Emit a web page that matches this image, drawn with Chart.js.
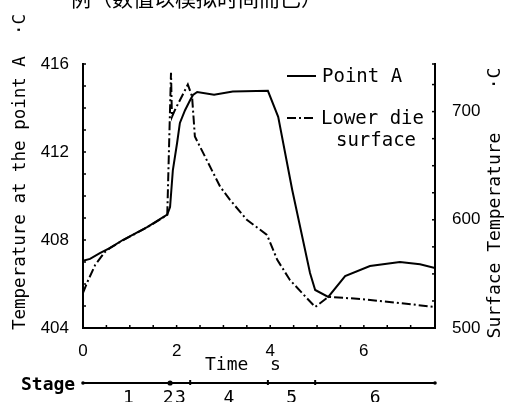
<!DOCTYPE html>
<html>
<head>
<meta charset="utf-8">
<script src="https://cdn.jsdelivr.net/npm/chart.js@4.4.1/dist/chart.umd.min.js"></script>
<style>
  html, body { margin: 0; padding: 0; background: #fff; }
  #wrap { width: 507px; height: 402px; }
</style>
</head>
<body>
<div id="wrap"><canvas id="tempChart" width="507" height="402"></canvas></div>
<script>
// Point A (left axis, solid)
const pointATime = [0, 0.15, 0.36, 0.58, 0.85, 1.37, 1.8, 1.86, 1.92, 2.01, 2.07, 2.18, 2.29, 2.35, 2.44, 2.8, 3.2, 3.95, 4.17, 4.47, 4.85, 4.96, 5.24, 5.6, 6.13, 6.77, 7.2, 7.52];
const pointATemp = [407.05, 407.14, 407.4, 407.64, 408.0, 408.59, 409.15, 409.5, 411.18, 412.41, 413.32, 413.9, 414.36, 414.59, 414.73, 414.6, 414.75, 414.78, 413.6, 410.27, 406.5, 405.73, 405.41, 406.36, 406.82, 407.0, 406.9, 406.73];

// Lower die surface (right axis, dash-dot)
const dieTime = [0, 0.085, 0.26, 0.47, 0.58, 0.85, 1.37, 1.8, 1.88, 1.9, 1.97, 2.24, 2.33, 2.39, 2.78, 2.93, 3.14, 3.5, 3.93, 4.15, 4.42, 4.96, 5.24, 5.92, 6.77, 7.52];
const dieTemp = [532.4, 541.7, 558.3, 570.4, 574, 581, 593, 604.5, 736, 695, 702, 725, 714, 677, 643.5, 630.6, 618.5, 600, 586.1, 563, 544.4, 519.4, 528.7, 526.9, 523.1, 519.4];

// stages along the time axis
const stageEdges = [0, 1.86, 2.29, 3.95, 4.96, 7.52];
const stageNames = ['1', '2', '3', '4', '5', '6'];
const stageLabelAt = [0.97, 1.82, 2.08, 3.12, 4.46, 6.24];

const xTickLabels = [0, 2, 4, 6];
const leftTickLabels = [404, 408, 412, 416];
const rightTickLabels = [500, 600, 700];

const mono = '"DejaVu Sans Mono", "Liberation Mono", monospace';
const dieDash = [9, 3, 2, 3];

function toPoints(xs, ys) {
    return xs.map((x, i) => ({ x: x, y: ys[i] }));
}

// inward tick marks, stage bar and all the loose text
const decorations = {
    id: 'decorations',
    afterDraw(chart) {
        const ctx = chart.ctx;
        const xs = chart.scales.x, yl = chart.scales.yLeft, yr = chart.scales.yRight;
        const area = chart.chartArea;
        ctx.save();
        ctx.strokeStyle = '#000';
        ctx.lineWidth = 1.5;
        // small ticks pointing inside
        yl.ticks.forEach(t => {
            const y = yl.getPixelForValue(t.value);
            ctx.beginPath(); ctx.moveTo(area.left, y); ctx.lineTo(area.left + 3, y); ctx.stroke();
        });
        yr.ticks.forEach(t => {
            const y = yr.getPixelForValue(t.value);
            ctx.beginPath(); ctx.moveTo(area.right, y); ctx.lineTo(area.right - 3, y); ctx.stroke();
        });
        xs.ticks.forEach(t => {
            const x = xs.getPixelForValue(t.value);
            ctx.beginPath(); ctx.moveTo(x, area.bottom); ctx.lineTo(x, area.bottom - 3); ctx.stroke();
        });

        // legend
        ctx.lineWidth = 2;
        ctx.beginPath(); ctx.moveTo(287, 76); ctx.lineTo(316, 76); ctx.stroke();
        ctx.setLineDash(dieDash);
        ctx.beginPath(); ctx.moveTo(287, 118); ctx.lineTo(316, 118); ctx.stroke();
        ctx.setLineDash([]);
        ctx.fillStyle = '#000';
        ctx.font = '19px ' + mono;
        ctx.textBaseline = 'middle';
        ctx.textAlign = 'left';
        ctx.fillText(chart.data.datasets[0].label, 322, 77);
        ctx.fillText('Lower die', 321, 119);
        ctx.textAlign = 'center';
        ctx.fillText('surface', 376, 141);

        // axis titles
        ctx.font = '17.5px ' + mono;
        ctx.save();
        ctx.translate(20, 172);
        ctx.rotate(-Math.PI / 2);
        ctx.fillText('Temperature at the point A  \u00b7C', 0, 0);
        ctx.restore();
        ctx.font = '18px ' + mono;
        ctx.save();
        ctx.translate(495, 203);
        ctx.rotate(-Math.PI / 2);
        ctx.fillText('Surface Temperature    \u00b7C', 0, 0);
        ctx.restore();

        ctx.textAlign = 'left';
        ctx.fillText('Time  s', 205, 365);

        // stage bar
        const sy = 383;
        ctx.lineWidth = 2;
        ctx.beginPath();
        ctx.moveTo(xs.getPixelForValue(stageEdges[0]), sy);
        ctx.lineTo(xs.getPixelForValue(stageEdges[stageEdges.length - 1]), sy);
        ctx.stroke();
        stageEdges.forEach((v, i) => {
            const x = xs.getPixelForValue(v);
            if (i === 0 || i === 1 || i === stageEdges.length - 1) {
                ctx.beginPath();
                ctx.arc(x, sy, i === 1 ? 2.6 : 1.8, 0, Math.PI * 2);
                ctx.fill();
            } else {
                ctx.beginPath(); ctx.moveTo(x, sy - 3); ctx.lineTo(x, sy + 2); ctx.stroke();
            }
        });
        ctx.font = 'bold 18px ' + mono;
        ctx.fillText('Stage', 21, 385);
        ctx.font = '18px ' + mono;
        ctx.textAlign = 'center';
        ctx.textBaseline = 'top';
        stageNames.forEach((s, i) => {
            ctx.fillText(s, xs.getPixelForValue(stageLabelAt[i]), 389);
        });

        // header, cut off by the top edge in the scan
        ctx.textAlign = 'left';
        ctx.textBaseline = 'alphabetic';
        ctx.font = '21px "Noto Sans CJK SC"';
        ctx.fillText('例（数值以模拟时间而已）', 70, 6);
        ctx.restore();
    }
};

const tickFont = { family: '"Liberation Sans", Arial, sans-serif', size: 17 };

const ctx = document.getElementById('tempChart').getContext('2d');
const tempChart = new Chart(ctx, {
    type: 'line',
    data: {
        datasets: [
            {
                label: 'Point A',
                data: toPoints(pointATime, pointATemp),
                yAxisID: 'yLeft',
                borderColor: '#000',
                borderWidth: 2,
                pointRadius: 0,
                tension: 0,
                fill: false
            },
            {
                label: 'Lower die surface',
                data: toPoints(dieTime, dieTemp),
                yAxisID: 'yRight',
                borderColor: '#000',
                borderWidth: 2,
                borderDash: dieDash,
                pointRadius: 0,
                tension: 0,
                fill: false
            }
        ]
    },
    options: {
        responsive: false,
        animation: false,
        layout: { padding: { top: 64, left: 0, right: 0, bottom: 0 } },
        plugins: { legend: { display: false }, tooltip: { enabled: false } },
        scales: {
            x: {
                type: 'linear',
                min: 0,
                max: 7.52,
                afterFit: s => { s.height = 74; },
                border: { color: '#000', width: 2 },
                grid: { display: false },
                ticks: {
                    stepSize: 0.5,
                    autoSkip: false,
                    maxRotation: 0,
                    padding: 5,
                    color: '#000',
                    font: tickFont,
                    callback: v => xTickLabels.includes(v) ? String(v) : ''
                }
            },
            yLeft: {
                type: 'linear',
                position: 'left',
                min: 404,
                max: 416,
                afterFit: s => { s.width = 83; },
                border: { color: '#000', width: 2 },
                grid: { display: false },
                ticks: {
                    stepSize: 1,
                    autoSkip: false,
                    padding: 6,
                    color: '#000',
                    font: tickFont,
                    callback: v => leftTickLabels.includes(v) ? String(v) : ''
                }
            },
            yRight: {
                type: 'linear',
                position: 'right',
                min: 500,
                max: 744,
                afterFit: s => { s.width = 72; },
                border: { color: '#000', width: 2 },
                grid: { display: false },
                ticks: {
                    stepSize: 25,
                    autoSkip: false,
                    padding: 9,
                    color: '#000',
                    font: tickFont,
                    callback: v => rightTickLabels.includes(v) ? String(v) : ''
                }
            }
        }
    },
    plugins: [decorations]
});
</script>
</body>
</html>
